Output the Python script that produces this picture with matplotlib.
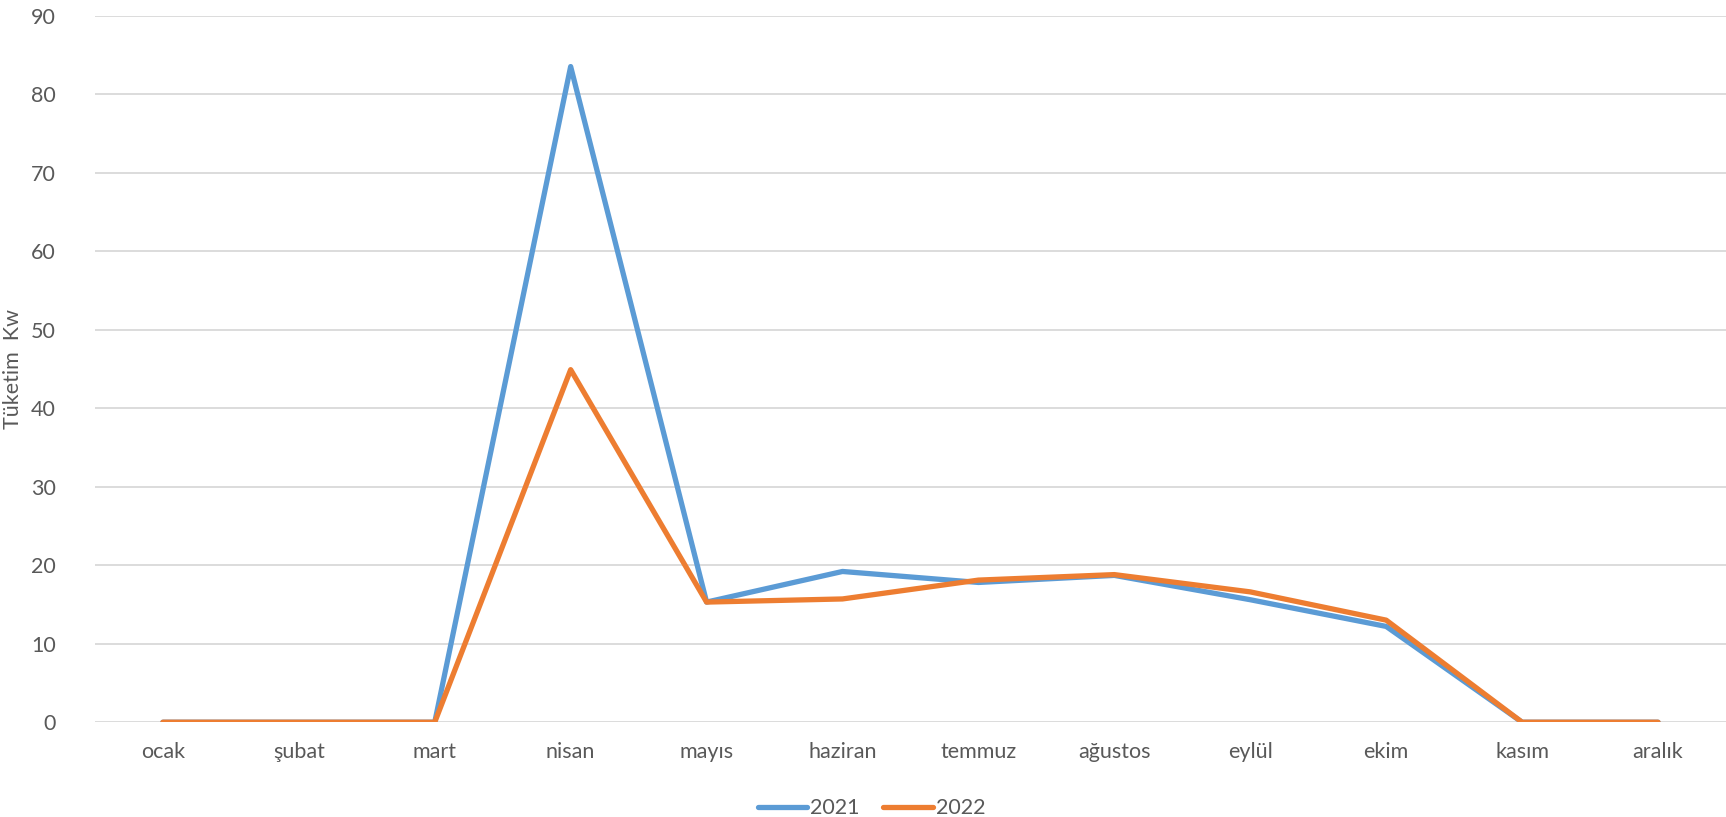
import matplotlib.pyplot as plt

# monthly consumption (kW)
months = ["ocak", "şubat", "mart", "nisan", "mayıs", "haziran", "temmuz",
          "ağustos", "eylül", "ekim", "kasım", "aralık"]
y2021 = [0, 0, 0, 83.5, 15.3, 19.2, 17.8, 18.7, 15.6, 12.2, 0, 0]
y2022 = [0, 0, 0, 44.9, 15.3, 15.7, 18.1, 18.8, 16.6, 13.0, 0, 0]

plt.rcParams['font.family'] = ['Lato', 'DejaVu Sans']
text_col = '#595959'

fig = plt.figure(figsize=(17.26, 8.17), dpi=100)
ax = fig.add_axes([0.055, 0.116, 0.945, 0.865])

x = range(len(months))
ax.plot(x, y2021, color='#5B9BD5', lw=3.8, label='2021', solid_joinstyle='round', solid_capstyle='round')
ax.plot(x, y2022, color='#ED7D31', lw=3.8, label='2022', solid_joinstyle='round', solid_capstyle='round')

ax.set_xlim(-0.5, len(months) - 0.5)
ax.set_ylim(0, 90)
ax.set_yticks(range(0, 91, 10))
ax.set_xticks(list(x))
ax.set_xticklabels(months)
ax.grid(axis='y', color='#D9D9D9', lw=1.3)
ax.set_axisbelow(True)
for s in ax.spines.values():
    s.set_visible(False)
ax.tick_params(length=0, labelsize=15.5, colors=text_col, pad=14)
ax.tick_params(axis='y', pad=28)
ax.set_ylabel('Tüketim  Kw', fontsize=15.5, color=text_col, labelpad=6)

leg = fig.legend(loc='lower center', bbox_to_anchor=(0.505, -0.025), ncol=2, frameon=False,
                 fontsize=15.5, handlelength=2.3, columnspacing=1.1, handletextpad=0.15)
for t in leg.get_texts():
    t.set_color(text_col)

fig.savefig('out.png', dpi=100)
